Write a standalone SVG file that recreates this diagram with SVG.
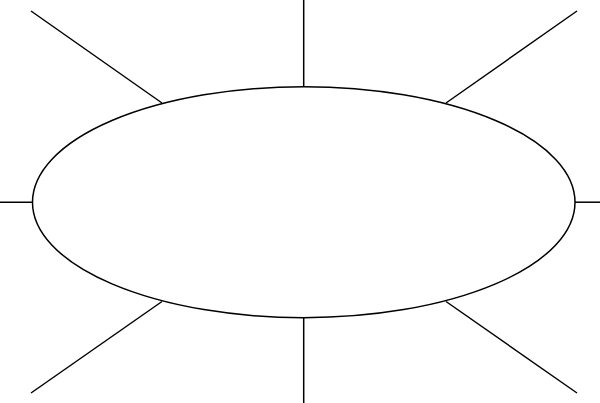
<svg xmlns="http://www.w3.org/2000/svg" width="600" height="403" viewBox="0 0 600 403">
<style>
.ln{stroke:#000;stroke-width:1.5;fill:none}
</style>
<rect width="600" height="403" fill="#fff"/>
<g id="connectors">
<line class="ln" x1="303.7" y1="0" x2="303.7" y2="86.7"/>
<line class="ln" x1="303.7" y1="317.7" x2="303.7" y2="403"/>
<line class="ln" x1="0" y1="202.2" x2="32.5" y2="202.2"/>
<line class="ln" x1="575" y1="202.2" x2="600" y2="202.2"/>
<line class="ln" x1="31" y1="11" x2="162" y2="103"/>
<line class="ln" x1="577" y1="11" x2="446" y2="103"/>
<line class="ln" x1="31" y1="393" x2="162" y2="301.5"/>
<line class="ln" x1="577" y1="393" x2="446" y2="301.5"/>
</g>
<g id="center">
<ellipse class="ln" cx="303.75" cy="202.2" rx="271.25" ry="115.5"/>
</g>
</svg>
